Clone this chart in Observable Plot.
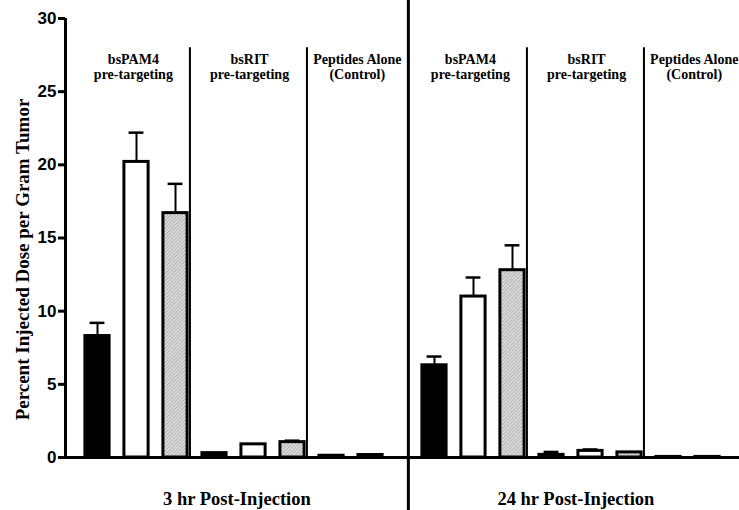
<!DOCTYPE html>
<html>
<head>
<meta charset="utf-8">
<script src="https://cdn.jsdelivr.net/npm/d3@7"></script>
<script src="https://cdn.jsdelivr.net/npm/@observablehq/plot@0.6"></script>
<style>
  html, body { margin: 0; padding: 0; background: #fff; }
  #chart svg { display: block; }
</style>
</head>
<body>
<div id="chart"></div>
<script>
// ---------- data ----------
const sections = ["3 hr Post-Injection", "24 hr Post-Injection"];
const groups = ["bsPAM4\npre-targeting", "bsRIT\npre-targeting", "Peptides Alone\n(Control)"];
const seriesNames = ["black", "white", "hatched"];
// values: group-major (bsPAM4 x3, bsRIT x3, Control x3)
const mean3hr  = [8.3, 20.2, 16.7, 0.3, 0.9, 1.05, 0.12, 0.17, null];
const err3hr   = [0.9, 2.0, 2.0, 0, 0, 0.1, 0, 0, null];
const mean24hr = [6.3, 11.0, 12.8, 0.18, 0.45, 0.35, 0.04, 0.04, null];
const err24hr  = [0.6, 1.3, 1.7, 0.2, 0.1, 0, 0, 0, null];
const yTicks = [0, 5, 10, 15, 20, 25, 30];
const yLabel = "Percent Injected Dose per Gram Tumor";

// ---------- layout constants ----------
const SECTION_OFFSET = [0, 8.64];
const SECTION_BOUNDS = [[-0.8205, 7.97], [7.97, 16.56]];
const LABEL_OFFSET = [0.92, 3.9, 6.66];
const DIVIDER_OFFSET = 2.37;
const BAR_HALF = 0.31, CAP_HALF = 0.19;
const fills = ["black", "white", "url(#hatch)"];
const serif = "'Liberation Serif', 'Times New Roman', serif";
const sans = "'Liberation Sans', Arial, sans-serif";

const means = [mean3hr, mean24hr];
const errs = [err3hr, err24hr];
const rows = [];
sections.forEach((sec, si) => {
  groups.forEach((g, gi) => {
    seriesNames.forEach((s, k) => {
      const v = means[si][gi * 3 + k];
      if (v == null) return;
      rows.push({section: sec, group: g, series: s, k, v, e: errs[si][gi * 3 + k],
                 pos: SECTION_OFFSET[si] + gi * 3 + k});
    });
  });
});
const errRows = rows.filter(d => d.e > 0);

const thinDividers = [];
sections.forEach((sec, si) => [0, 1].forEach(gi => thinDividers.push({pos: SECTION_OFFSET[si] + gi * 3 + DIVIDER_OFFSET})));
const groupLabels = [];
sections.forEach((sec, si) => groups.forEach((g, gi) => groupLabels.push({text: g, pos: SECTION_OFFSET[si] + LABEL_OFFSET[gi]})));
const sectionLabels = sections.map((s, si) => ({text: s, pos: (SECTION_BOUNDS[si][0] + SECTION_BOUNDS[si][1]) / 2}));

const chart = Plot.plot({
  width: 739,
  height: 510,
  marginTop: 18,
  marginBottom: 53,
  marginLeft: 65,
  marginRight: 0,
  style: {background: "white", color: "black"},
  x: {type: "linear", domain: [-0.8205, 16.46], axis: null},
  y: {domain: [0, 30], axis: null},
  marks: [
    // error bars
    Plot.ruleX(errRows, {x: "pos", y1: "v", y2: d => d.v + d.e, stroke: "black", strokeWidth: 2}),
    Plot.ruleY(errRows, {y: d => d.v + d.e, x1: d => d.pos - CAP_HALF, x2: d => d.pos + CAP_HALF, stroke: "black", strokeWidth: 2.5}),
    // bars
    ...seriesNames.map((s, k) => Plot.rect(rows.filter(d => d.k === k), {
      x1: d => d.pos - BAR_HALF, x2: d => d.pos + BAR_HALF, y1: d => 0, y2: "v",
      fill: fills[k], stroke: "black", strokeWidth: 3
    })),
    // dividers
    Plot.ruleX(thinDividers, {x: "pos", y1: d => 0, y2: d => 28, stroke: "black", strokeWidth: 2}),
    Plot.ruleX([SECTION_BOUNDS[0][1]], {y1: d => -3.7, y2: d => 31.3, stroke: "black", strokeWidth: 3}),
    // axes lines
    Plot.ruleY([0], {stroke: "black", strokeWidth: 3}),
    Plot.ruleX([-0.8205], {y1: d => 0, y2: d => 30, stroke: "black", strokeWidth: 3}),
    Plot.axisY({ticks: yTicks, tickSize: 7, tickPadding: 2, strokeWidth: 3, label: null,
                fontSize: 17, fontWeight: "bold", fontFamily: sans, tickFormat: d => String(d)}),
    // group labels
    Plot.text(groupLabels, {x: "pos", y: d => 27.6, text: "text", lineAnchor: "top", lineHeight: 1.07,
                fontFamily: serif, fontWeight: "bold", fontSize: 14, fill: "black"}),
    // section labels
    Plot.text(sectionLabels, {x: "pos", y: d => -2.32, text: "text", lineAnchor: "top",
                fontFamily: serif, fontWeight: "bold", fontSize: 18.5, fill: "black"}),
    // y label
    Plot.text([yLabel], {x: d => -1.92, y: d => 13.53, text: d => d, rotate: -90,
                fontFamily: serif, fontWeight: "bold", fontSize: 19, fill: "black"})
  ]
});

// hatch pattern definition
const ns = "http://www.w3.org/2000/svg";
const defs = document.createElementNS(ns, "defs");
defs.innerHTML = `<pattern id="hatch" patternUnits="userSpaceOnUse" width="2.5" height="2.5" patternTransform="rotate(45)">
  <rect width="2.5" height="2.5" fill="#dcdcdc"></rect>
  <line x1="0" y1="0" x2="0" y2="2.5" stroke="#8c8c8c" stroke-width="1"></line>
</pattern>`;
chart.insertBefore(defs, chart.firstChild);
document.getElementById("chart").appendChild(chart);
</script>
</body>
</html>
